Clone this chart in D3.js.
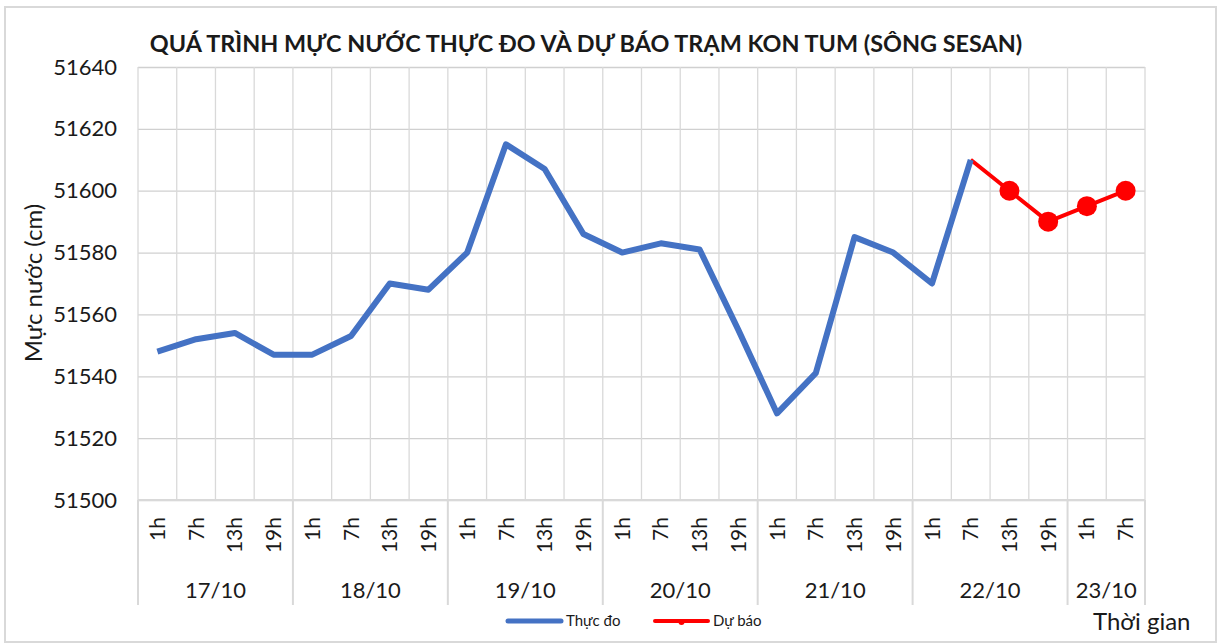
<!DOCTYPE html>
<html>
<head>
<meta charset="utf-8">
<script src="https://cdn.jsdelivr.net/npm/d3@7"></script>
<style>
  body { margin: 0; background: #fff; }
  text { font-family: Lato, "Open Sans", sans-serif; fill: #1a1a1a; }
</style>
</head>
<body>
<div id="chart"><svg width="1219" height="644"></svg></div>
<script>
// hour of each point; every "1h" starts a new day
const hourLabels = ["1h","7h","13h","19h", "1h","7h","13h","19h", "1h","7h","13h","19h",
                    "1h","7h","13h","19h", "1h","7h","13h","19h", "1h","7h","13h","19h",
                    "1h","7h"];
const dayLabels = ["17/10","18/10","19/10","20/10","21/10","22/10","23/10"];

const observed = [51548, 51552, 51554, 51547, 51547, 51553, 51570, 51568,
                  51580, 51615, 51607, 51586, 51580, 51583, 51581, 51555,
                  51528, 51541, 51585, 51580, 51570, 51610, null, null, null, null];
const forecast = [null, null, null, null, null, null, null, null,
                  null, null, null, null, null, null, null, null,
                  null, null, null, null, null, 51610, 51600, 51590, 51595, 51600];

const yTicks = [51500, 51520, 51540, 51560, 51580, 51600, 51620, 51640];

const seriesNames = ["Thực đo", "Dự báo"];
const title = "QUÁ TRÌNH MỰC NƯỚC THỰC ĐO VÀ DỰ BÁO TRẠM KON TUM (SÔNG SESAN)";

/***** BASIC SETUP *****/
const svg = d3.select("#chart svg");
const margin = {top: 67, left: 138, right: 74, bottom: 144};
const width = 1219, height = 644;
const plotRight = width - margin.right;
const plotBottom = height - margin.bottom;

const colorObs = "#4472C4";
const colorFc = "#FF0000";
const gridColor = "#d9d9d9";

// outer frame
svg.append("rect")
    .attr("x", 5).attr("y", 7)
    .attr("width", 1211).attr("height", 635)
    .attr("fill", "white")
    .attr("stroke", gridColor)
    .attr("stroke-width", 2)

/***** SCALES *****/
const idx = d3.range(hourLabels.length);

let xScale = d3.scaleBand()
    .domain(idx)
    .range([margin.left, plotRight])
    .padding(0);

let yScale = d3.scaleLinear()
    .domain([d3.min(yTicks), d3.max(yTicks)])
    .range([plotBottom, margin.top]);

/***** GRIDLINES *****/
svg.append("g")
    .attr("class", "yGrid")
    .attr("transform", `translate(${margin.left},0)`)
    .call(d3.axisLeft(yScale).tickValues(yTicks).tickSize(-(plotRight - margin.left)).tickFormat(""))
    .call(g => g.select(".domain").remove())
    .selectAll("line")
    .attr("stroke", "#d0d0d0")
    .attr("stroke-width", 1.3)

// vertical lines at every category edge
const edges = idx.map(i => xScale(i)).concat([plotRight]);
svg.append("g")
    .selectAll("line")
    .data(edges)
    .join("line")
    .attr("x1", d => d).attr("x2", d => d)
    .attr("y1", margin.top).attr("y2", plotBottom)
    .attr("stroke", gridColor)
    .attr("stroke-width", 1.3)

/***** AXES *****/
svg.append("g")
    .attr("class", "yAxis")
    .attr("transform", `translate(${margin.left},0)`)
    .call(d3.axisLeft(yScale).tickValues(yTicks).tickSize(0).tickPadding(21).tickFormat(d => d))
    .call(g => g.select(".domain").remove())
    .selectAll("text")
    .style("font-size", "22px")
    .attr("fill", "#262626")

// hour labels, rotated
svg.append("g")
    .attr("class", "xAxis")
    .attr("transform", `translate(0,${plotBottom})`)
    .call(d3.axisBottom(xScale).tickSize(0).tickFormat(i => hourLabels[i]))
    .call(g => g.select(".domain").remove())
    .selectAll("text")
    .attr("transform", "rotate(-90)")
    .attr("x", -17)
    .attr("y", 0)
    .attr("dy", "0.36em")
    .style("text-anchor", "end")
    .style("font-size", "21px")
    .attr("fill", "#1a1a1a")

// day groups
const dayStarts = idx.filter(i => hourLabels[i] === "1h");
const dayGroups = dayLabels.map((d, k) => {
    const s = dayStarts[k];
    const e = k + 1 < dayStarts.length ? dayStarts[k + 1] : idx.length;
    return {label: d, x0: xScale(s), x1: e < idx.length ? xScale(e) : plotRight};
});

svg.append("line")
    .attr("x1", margin.left).attr("x2", plotRight)
    .attr("y1", plotBottom).attr("y2", plotBottom)
    .attr("stroke", gridColor).attr("stroke-width", 2)

svg.append("g")
    .selectAll("line")
    .data(dayGroups.map(d => d.x0).concat([plotRight]))
    .join("line")
    .attr("x1", d => d).attr("x2", d => d)
    .attr("y1", plotBottom).attr("y2", 605)
    .attr("stroke", gridColor)
    .attr("stroke-width", 2)

svg.append("g")
    .selectAll("text")
    .data(dayGroups)
    .join("text")
    .attr("x", d => (d.x0 + d.x1) / 2)
    .attr("y", 598)
    .attr("text-anchor", "middle")
    .style("font-size", "22px")
    .attr("fill", "#262626")
    .text(d => d.label)

/***** LINES *****/
const cx = i => xScale(i) + xScale.bandwidth() / 2;

const lineGen = d3.line()
    .defined(d => d.v !== null)
    .x(d => cx(d.i))
    .y(d => yScale(d.v));

svg.append("path")
    .datum(forecast.map((v, i) => ({i, v})))
    .attr("d", lineGen)
    .attr("fill", "none")
    .attr("stroke", colorFc)
    .attr("stroke-width", 4)
    .attr("stroke-linejoin", "round")

svg.append("path")
    .datum(observed.map((v, i) => ({i, v})))
    .attr("d", lineGen)
    .attr("fill", "none")
    .attr("stroke", colorObs)
    .attr("stroke-width", 6)
    .attr("stroke-linejoin", "round")

// forecast markers (first point is the join with observed, no marker)
const firstFc = forecast.findIndex(v => v !== null);
svg.append("g")
    .selectAll("circle")
    .data(forecast.map((v, i) => ({i, v})).filter(d => d.v !== null && d.i > firstFc))
    .join("circle")
    .attr("cx", d => cx(d.i))
    .attr("cy", d => yScale(d.v))
    .attr("r", 10)
    .attr("fill", colorFc)

/***** TITLE, AXIS TITLES *****/
const titleText = svg.append("text")
    .attr("x", 586)
    .attr("y", 52)
    .attr("text-anchor", "middle")
    .style("font-weight", "bold")
    .style("font-size", "24px")
    .attr("fill", "#000")
    .text(title);
// fit to the width of the original title
const tw = titleText.node().getComputedTextLength();
titleText.style("font-size", (24 * 873 / tw) + "px");

svg.append("text")
    .attr("transform", "translate(42,283) rotate(-90)")
    .attr("text-anchor", "middle")
    .style("font-size", "24px")
    .attr("fill", "#000")
    .text("Mực nước (cm)")

svg.append("text")
    .attr("x", 1093)
    .attr("y", 630)
    .style("font-size", "24px")
    .attr("fill", "#000")
    .text("Thời gian")

/***** LEGEND *****/
const legend = svg.append("g").attr("transform", "translate(0,621)");
const legendItems = [
    {name: seriesNames[0], color: colorObs, w: 5, x: 508},
    {name: seriesNames[1], color: colorFc, w: 4, x: 655}
];
legend.selectAll("line")
    .data(legendItems)
    .join("line")
    .attr("x1", d => d.x).attr("x2", d => d.x + 53)
    .attr("y1", 0).attr("y2", 0)
    .attr("stroke", d => d.color)
    .attr("stroke-width", d => d.w)
    .attr("stroke-linecap", "round")
legend.append("circle")
    .attr("cx", 655 + 26.5).attr("cy", 1).attr("r", 3)
    .attr("fill", colorFc)
legend.selectAll("text")
    .data(legendItems)
    .join("text")
    .attr("x", d => d.x + 58)
    .attr("y", 5)
    .style("font-size", "15px")
    .attr("fill", "#262626")
    .text(d => d.name)
</script>
</body>
</html>
